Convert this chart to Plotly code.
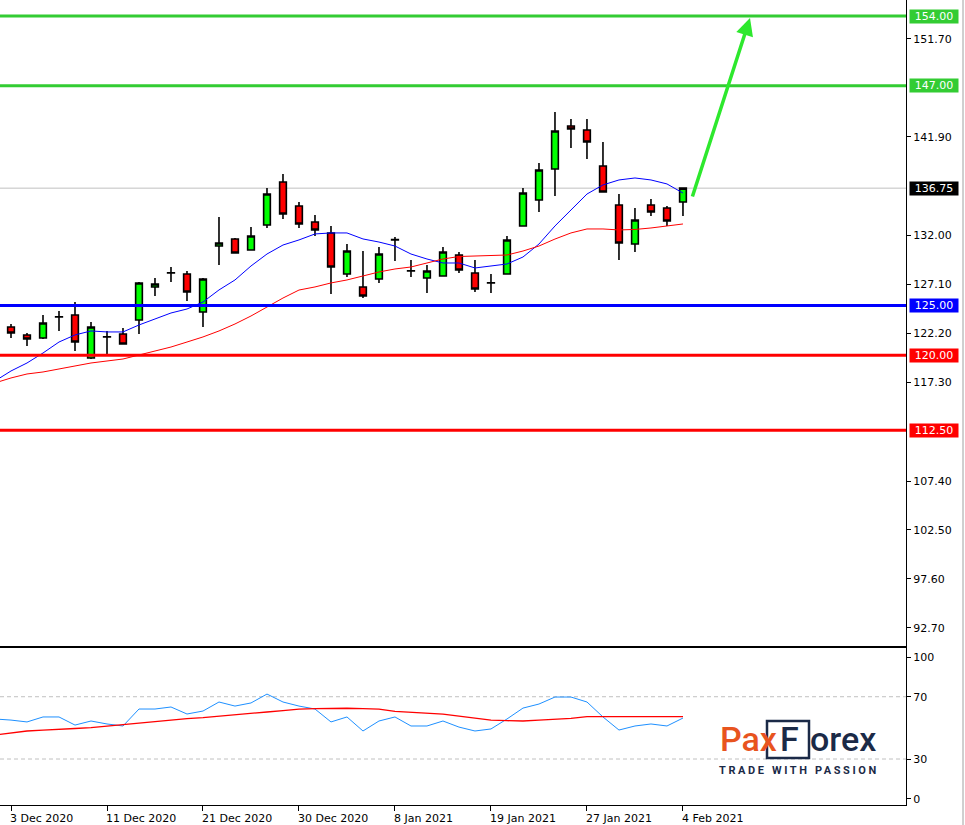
import plotly.graph_objects as go

# ---------------- data ----------------
dates = [
    "2020-12-02", "2020-12-03", "2020-12-04", "2020-12-07", "2020-12-08", "2020-12-09",
    "2020-12-10", "2020-12-11", "2020-12-14", "2020-12-15", "2020-12-16", "2020-12-17",
    "2020-12-18", "2020-12-21", "2020-12-22", "2020-12-23", "2020-12-24", "2020-12-28",
    "2020-12-29", "2020-12-30", "2020-12-31", "2021-01-04", "2021-01-05", "2021-01-06",
    "2021-01-07", "2021-01-08", "2021-01-11", "2021-01-12", "2021-01-13", "2021-01-14",
    "2021-01-15", "2021-01-19", "2021-01-20", "2021-01-21", "2021-01-22", "2021-01-25",
    "2021-01-26", "2021-01-27", "2021-01-28", "2021-01-29", "2021-02-01", "2021-02-02",
    "2021-02-03", "2021-02-04",
]
opens = [
    122.54, 122.84, 122.04, 121.74, 123.86, 124.04, 119.73, 121.86, 122.14, 123.54, 126.85,
    128.27, 128.15, 124.34, 130.95, 131.65, 130.55, 133.06, 137.37, 134.96, 133.36, 132.26,
    128.15, 126.85, 127.65, 131.60, 128.47, 127.75, 127.95, 130.05, 128.25, 127.27, 128.15,
    132.96, 135.56, 138.67, 142.98, 142.58, 138.97, 135.06, 131.15, 135.06, 134.76, 135.36,
]
highs = [
    122.84, 123.14, 122.24, 124.04, 124.44, 125.34, 123.34, 122.44, 122.74, 127.35, 127.75,
    128.85, 128.45, 127.75, 133.86, 131.75, 132.86, 136.77, 138.17, 135.36, 134.06, 132.96,
    131.15, 130.45, 130.85, 131.85, 129.55, 129.05, 130.85, 130.35, 129.55, 128.15, 131.95,
    136.77, 139.27, 144.38, 143.68, 143.68, 141.37, 136.16, 134.76, 135.66, 134.96, 136.77,
]
lows = [
    121.24, 121.74, 120.93, 121.64, 122.44, 120.43, 119.63, 120.13, 121.12, 122.14, 125.94,
    127.35, 125.44, 122.84, 129.05, 130.22, 130.52, 132.76, 133.66, 132.76, 131.95, 126.14,
    127.85, 125.74, 127.25, 129.45, 127.85, 126.24, 127.92, 128.25, 126.34, 126.24, 128.12,
    132.93, 134.36, 135.96, 140.77, 139.67, 136.33, 129.55, 130.35, 133.96, 132.96, 133.96,
]
closes = [
    121.54, 122.24, 121.64, 123.24, 123.84, 121.34, 122.84, 121.84, 121.14, 127.25, 127.15,
    128.25, 126.34, 127.65, 131.25, 130.25, 131.95, 136.16, 134.16, 133.16, 132.56, 128.85,
    130.45, 125.94, 130.15, 131.55, 128.45, 128.45, 130.35, 128.55, 126.65, 127.25, 131.55,
    136.26, 138.57, 142.48, 142.68, 141.37, 136.36, 131.25, 133.56, 134.36, 133.46, 136.75,
]
ma_fast = [
    117.43, 118.43, 119.23, 120.23, 121.33, 122.04, 122.44, 122.34, 122.34, 123.04, 123.64,
    124.24, 124.64, 125.34, 126.55, 127.55, 128.95, 130.15, 131.05, 131.56, 132.16, 132.26,
    132.26, 131.66, 131.35, 130.95, 130.15, 129.65, 129.25, 129.25, 128.75, 128.95, 129.15,
    129.85, 131.15, 132.96, 134.56, 136.16, 137.07, 137.57, 137.77, 137.57, 137.17, 136.26,
]
ma_slow = [
    117.23, 117.73, 118.13, 118.33, 118.63, 118.93, 119.23, 119.43, 119.63, 120.03, 120.43,
    120.83, 121.33, 121.84, 122.44, 123.14, 123.94, 124.84, 125.74, 126.54, 126.85, 127.25,
    127.55, 127.95, 128.35, 128.65, 128.85, 129.25, 129.65, 129.90, 129.95, 129.95, 130.05,
    130.45, 130.95, 131.65, 132.26, 132.66, 132.66, 132.56, 132.61, 132.76, 132.96, 133.16,
]
osc_main = [
    55.7, 55.0, 53.8, 57.0, 57.0, 51.8, 54.4, 52.5, 51.2, 62.1, 62.1,
    63.4, 58.9, 60.8, 66.6, 64.0, 66.0, 71.7, 66.6, 64.0, 62.1, 53.8,
    57.0, 48.0, 54.4, 57.0, 51.2, 51.2, 54.4, 50.5, 48.0, 49.3, 55.7,
    62.7, 65.3, 69.8, 69.8, 66.6, 57.0, 48.6, 51.2, 52.5, 51.2, 56.3,
]
osc_signal = [
    45.4, 46.7, 48.0, 48.6, 48.9, 49.6, 50.2, 51.2, 52.2, 53.1, 54.4,
    55.4, 56.0, 56.6, 57.6, 58.6, 59.5, 60.2, 61.1, 62.1, 62.4, 62.6,
    62.6, 62.4, 62.1, 60.6, 60.0, 59.4, 58.8, 57.6, 56.3, 55.0, 54.6,
    54.4, 55.0, 55.5, 56.1, 57.2, 57.2, 57.2, 57.2, 57.2, 57.2, 57.2,
]

date_labels = {
    "2020-12-03": "3 Dec 2020", "2020-12-11": "11 Dec 2020", "2020-12-21": "21 Dec 2020",
    "2020-12-30": "30 Dec 2020", "2021-01-08": "8 Jan 2021", "2021-01-19": "19 Jan 2021",
    "2021-01-27": "27 Jan 2021", "2021-02-04": "4 Feb 2021",
}
price_ticks = [151.70, 141.90, 132.00, 127.10, 122.20, 117.30, 107.40, 102.50, 97.60, 92.70]
level_values = [154.00, 147.00, 125.00, 120.00, 112.50]
level_colors = ["#33cc33", "#33cc33", "#0000ff", "#ff0000", "#ff0000"]
current_price = 136.75
osc_levels = [70, 30]
osc_tick_vals = [4.5, 30, 70, 95.3]
osc_tick_text = ["0", "30", "70", "100"]
arrow_x = [43.56, 47.19]
arrow_y = [135.76, 153.8]

x_idx = list(range(len(dates)))
FONT = "DejaVu Sans"
NAVY = "#1b2a47"
ORANGE = "#e8541e"
PW, PH = 906, 805  # plot area size in px (for paper-coordinate decorations)

fig = go.Figure()
fig.add_trace(go.Candlestick(
    x=x_idx, open=opens, high=highs, low=lows, close=closes,
    increasing=dict(fillcolor="#00ff00", line=dict(color="black", width=1.6)),
    decreasing=dict(fillcolor="#ff0000", line=dict(color="black", width=1.6)),
    whiskerwidth=0, xaxis="x", yaxis="y", hoverinfo="skip",
))
fig.add_trace(go.Scatter(x=x_idx, y=ma_fast, mode="lines",
                         line=dict(color="#0000ff", width=1), xaxis="x", yaxis="y"))
fig.add_trace(go.Scatter(x=x_idx, y=ma_slow, mode="lines",
                         line=dict(color="#ff0000", width=1), xaxis="x", yaxis="y"))
fig.add_trace(go.Scatter(x=x_idx, y=osc_main, mode="lines",
                         line=dict(color="#1e90ff", width=1), xaxis="x2", yaxis="y2"))
fig.add_trace(go.Scatter(x=x_idx, y=osc_signal, mode="lines",
                         line=dict(color="#ff0000", width=1.3), xaxis="x2", yaxis="y2"))

shapes = []
for v, c in zip(level_values, level_colors):
    shapes.append(dict(type="line", xref="paper", yref="y", x0=0, x1=1, y0=v, y1=v,
                       line=dict(color=c, width=3), layer="above"))
shapes.append(dict(type="line", xref="paper", yref="y", x0=0, x1=1,
                   y0=current_price, y1=current_price,
                   line=dict(color="#c0c0c0", width=1), layer="below"))
for v in osc_levels:
    shapes.append(dict(type="line", xref="paper", yref="y2", x0=0, x1=1, y0=v, y1=v,
                       line=dict(color="#c0c0c0", width=1, dash="4px,3px"), layer="below"))
# window edge
shapes.append(dict(type="line", xref="paper", yref="paper", x0=963/PW, x1=963/PW,
                   y0=-0.03, y1=1, line=dict(color="#a0a0a0", width=1)))
# logo F box
shapes.append(dict(type="rect", xref="paper", yref="paper", x0=767/PW, x1=809/PW,
                   y0=(PH-758)/PH, y1=(PH-721)/PH,
                   line=dict(color=NAVY, width=2.5)))

annotations = []
for d, t in date_labels.items():
    annotations.append(dict(x=dates.index(d), xref="x2", y=0, yref="paper", yshift=-5,
                            text=t, showarrow=False, xanchor="left", yanchor="top",
                            xshift=-3, font=dict(family=FONT, size=11, color="black")))
for v, c in zip(level_values + [current_price], level_colors + ["#000000"]):
    annotations.append(dict(x=1, xref="paper", y=v, yref="y", xanchor="left", xshift=3,
                            text=f"{v:.2f}", showarrow=False, bgcolor=c, width=46, height=11,
                            borderpad=1, align="center",
                            font=dict(family=FONT, size=11, color="white")))
annotations.append(dict(x=arrow_x[1], y=arrow_y[1], xref="x", yref="y",
                        ax=arrow_x[0], ay=arrow_y[0], axref="x", ayref="y",
                        text="", showarrow=True, arrowhead=2, arrowsize=1.0,
                        arrowwidth=3.5, arrowcolor="#2de82d", standoff=0))
# logo
logo_font = dict(family="Roboto", size=34, weight=500)
logo_y = (PH - 739) / PH
annotations.append(dict(x=718/PW, y=logo_y, xref="paper", yref="paper", text="Pax",
                        showarrow=False, xanchor="left", yanchor="middle",
                        font=dict(color=ORANGE, **logo_font)))
annotations.append(dict(x=789/PW, y=logo_y, xref="paper", yref="paper", text="F",
                        showarrow=False, xanchor="center", yanchor="middle",
                        font=dict(color=NAVY, **logo_font)))
annotations.append(dict(x=878/PW, y=logo_y, xref="paper", yref="paper", text="orex",
                        showarrow=False, xanchor="right", yanchor="middle",
                        font=dict(color=NAVY, **logo_font)))
annotations.append(dict(x=799/PW, y=(PH-770)/PH, xref="paper", yref="paper",
                        text='<span style="letter-spacing:2.6px">TRADE WITH PASSION</span>',
                        showarrow=False, xanchor="center", yanchor="middle",
                        font=dict(family="Roboto", size=11, color=NAVY, weight=700)))

axis_common = dict(showgrid=False, zeroline=False, fixedrange=True)
fig.update_layout(
    width=965, height=825,
    margin=dict(l=0, r=59, t=0, b=20),
    plot_bgcolor="white", paper_bgcolor="white",
    showlegend=False, boxgap=0.4,
    xaxis=dict(domain=[0, 1], anchor="y", range=[0.3125, 56.94], showline=True,
               linecolor="black", linewidth=1, ticks="", showticklabels=False,
               rangeslider=dict(visible=False), **axis_common),
    xaxis2=dict(domain=[0, 1], anchor="y2", matches="x", range=[0.3125, 56.94],
                showline=True, mirror=True, linecolor="black", linewidth=1,
                ticks="outside", ticklen=5, tickcolor="black",
                tickvals=[dates.index(d) for d in date_labels], showticklabels=False,
                **axis_common),
    yaxis=dict(domain=[0.1975, 1], anchor="x", side="right", range=[90.87, 155.603],
               showline=True, linecolor="black", linewidth=1, ticks="outside", ticklen=4,
               tickcolor="black", tickvals=price_ticks,
               ticktext=[f"{v:.2f}" for v in price_ticks],
               tickfont=dict(family=FONT, size=11, color="black"), **axis_common),
    yaxis2=dict(domain=[0, 0.195], anchor="x2", side="right", range=[0.47, 101.27],
                showline=True, linecolor="black", linewidth=1, ticks="outside", ticklen=4,
                tickcolor="black", tickvals=osc_tick_vals, ticktext=osc_tick_text,
                tickfont=dict(family=FONT, size=11, color="black"), **axis_common),
    shapes=shapes,
    annotations=annotations,
)

fig.write_html("out.html", config={"displayModeBar": False},
               post_script="document.body.style.margin='0px';")
